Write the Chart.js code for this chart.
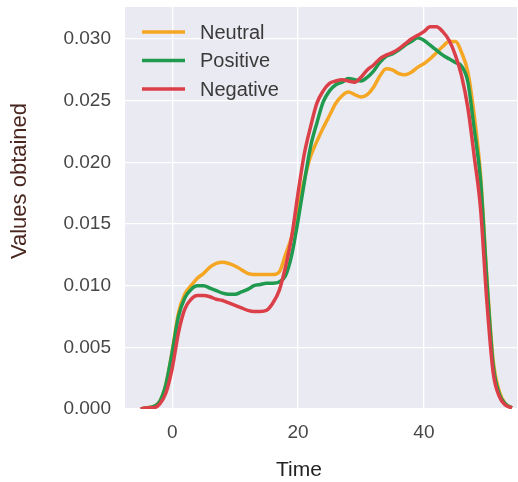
<!DOCTYPE html>
<html>
<head>
<meta charset="utf-8">
<script src="https://cdn.jsdelivr.net/npm/chart.js@4.4.1/dist/chart.umd.min.js"></script>
<style>
    html, body { margin: 0; padding: 0; background: #ffffff; }
    #wrap { width: 518px; height: 482px; position: relative; }
</style>
</head>
<body>
<div id="wrap"><canvas id="kdeChart"></canvas></div>
<script>
// time grid (x) and the three density curves
const timePoints = [-5, -4, -3, -2, -1, 0, 1, 2, 3, 4, 5, 6, 7, 8, 9, 10, 11, 12, 13, 14,
    15, 16, 17, 18, 19, 20, 21, 22, 23, 24, 25, 26, 27, 28, 29, 30, 31, 32, 33, 34,
    35, 36, 37, 38, 39, 40, 41, 42, 43, 44, 45, 46, 47, 48, 49, 50, 51, 52, 53, 54];

const neutralValues = [0.0000, 0.0001, 0.0002, 0.0006, 0.0020, 0.0047, 0.0078, 0.0093, 0.0100, 0.0106,
    0.0110, 0.0115, 0.0118, 0.0119, 0.0118, 0.0116, 0.0113, 0.0110, 0.0109, 0.0109,
    0.0109, 0.0109, 0.0111, 0.0125, 0.0140, 0.0163, 0.0186, 0.0205, 0.0217, 0.0228,
    0.0238, 0.0248, 0.0254, 0.0257, 0.0255, 0.0253, 0.0255, 0.0261, 0.0270, 0.0276,
    0.0275, 0.0272, 0.0271, 0.0273, 0.0277, 0.0280, 0.0284, 0.0289, 0.0294, 0.0298,
    0.0298, 0.0289, 0.0273, 0.0238, 0.0190, 0.0108, 0.0040, 0.0014, 0.0004, 0.0001];

const positiveValues = [0.0000, 0.0001, 0.0002, 0.0006, 0.0020, 0.0046, 0.0075, 0.0090, 0.0097, 0.0100,
    0.0100, 0.0098, 0.0096, 0.0094, 0.0093, 0.0093, 0.0095, 0.0097, 0.0100, 0.0101,
    0.0102, 0.0102, 0.0103, 0.0108, 0.0125, 0.0153, 0.0184, 0.0213, 0.0232, 0.0249,
    0.0258, 0.0263, 0.0265, 0.0268, 0.0267, 0.0266, 0.0269, 0.0274, 0.0281, 0.0286,
    0.0288, 0.0291, 0.0295, 0.0298, 0.0301, 0.0299, 0.0295, 0.0291, 0.0287, 0.0284,
    0.0281, 0.0278, 0.0265, 0.0227, 0.0186, 0.0105, 0.0036, 0.0012, 0.0004, 0.0001];

const negativeValues = [0.0000, 0.0001, 0.0001, 0.0004, 0.0013, 0.0033, 0.0062, 0.0081, 0.0089, 0.0092,
    0.0092, 0.0091, 0.0089, 0.0088, 0.0086, 0.0084, 0.0082, 0.0080, 0.0079, 0.0079,
    0.0080, 0.0086, 0.0096, 0.0115, 0.0140, 0.0175, 0.0207, 0.0229, 0.0248, 0.0258,
    0.0264, 0.0266, 0.0267, 0.0266, 0.0265, 0.0269, 0.0275, 0.0279, 0.0284, 0.0287,
    0.0289, 0.0292, 0.0296, 0.0300, 0.0303, 0.0306, 0.0310, 0.0310, 0.0306, 0.0299,
    0.0287, 0.0270, 0.0244, 0.0205, 0.0163, 0.0088, 0.0030, 0.0010, 0.0003, 0.0001];

const seriesNames = ['Neutral', 'Positive', 'Negative'];
const seriesColors = ['#f5a623', '#1f9a4e', '#db3f48'];

const xTicks = [0, 20, 40];
const yTicks = [0.000, 0.005, 0.010, 0.015, 0.020, 0.025, 0.030];

const FONT = '"Liberation Sans", Arial, sans-serif';

const toPoints = (vals) => timePoints.map((t, i) => ({ x: t, y: vals[i] }));

// seaborn-ish grey panel behind the curves
const plotBackground = {
    id: 'plotBackground',
    beforeDraw(chart) {
        const { ctx, chartArea: a } = chart;
        ctx.save();
        ctx.fillStyle = '#eaeaf2';
        ctx.fillRect(a.left, a.top, a.width, a.height);
        ctx.restore();
    }
};

// legend sits inside the plot, top left, one row per series
const insideLegend = {
    id: 'insideLegend',
    afterDatasetsDraw(chart) {
        const { ctx, chartArea: a } = chart;
        ctx.save();
        ctx.font = '20px ' + FONT;
        ctx.textBaseline = 'middle';
        chart.data.datasets.forEach((ds, i) => {
            const y = a.top + 25 + i * 28.5;
            ctx.strokeStyle = ds.borderColor;
            ctx.lineWidth = 3.5;
            ctx.beginPath();
            ctx.moveTo(a.left + 17, y);
            ctx.lineTo(a.left + 60, y);
            ctx.stroke();
            ctx.fillStyle = '#3a3a3a';
            ctx.fillText(ds.label, a.left + 75, y + 1);
        });
        ctx.restore();
    }
};

// axis titles placed like the original (not centred on the panel)
const axisTitles = {
    id: 'axisTitles',
    afterDraw(chart) {
        const { ctx, chartArea: a } = chart;
        ctx.save();
        ctx.font = '22px ' + FONT;
        ctx.textAlign = 'center';
        ctx.textBaseline = 'middle';
        ctx.fillStyle = '#4a2620';
        ctx.translate(20, a.top + 174);
        ctx.rotate(-Math.PI / 2);
        ctx.fillText('Values obtained', 0, 0);
        ctx.restore();

        ctx.save();
        ctx.font = '21px ' + FONT;
        ctx.textAlign = 'center';
        ctx.textBaseline = 'middle';
        ctx.fillStyle = '#222222';
        ctx.fillText('Time', a.left + 174, a.bottom + 61);
        ctx.restore();
    }
};

const keepTicks = (list) => (scale) => {
    scale.ticks = list.map(v => ({ value: v }));
};

new Chart(document.getElementById('kdeChart'), {
    type: 'line',
    data: {
        datasets: [
            { label: seriesNames[0], data: toPoints(neutralValues), borderColor: seriesColors[0], order: 3 },
            { label: seriesNames[1], data: toPoints(positiveValues), borderColor: seriesColors[1], order: 2 },
            { label: seriesNames[2], data: toPoints(negativeValues), borderColor: seriesColors[2], order: 1 }
        ].map(ds => Object.assign(ds, {
            borderWidth: 3.5,
            pointRadius: 0,
            fill: false,
            cubicInterpolationMode: 'monotone'
        }))
    },
    options: {
        responsive: true,
        maintainAspectRatio: false,
        animation: false,
        layout: { padding: { top: 7, right: 1, left: 0, bottom: 0 } },
        scales: {
            x: {
                type: 'linear',
                min: -7.5,
                max: 54.8,
                afterBuildTicks: keepTicks(xTicks),
                afterFit: (scale) => {
                    scale.height = 73;
                    scale.paddingLeft = 0;
                    scale.paddingRight = 0;
                },
                border: { display: false },
                grid: { color: '#ffffff', lineWidth: 1.3, drawTicks: false },
                ticks: {
                    padding: 12,
                    color: '#474747',
                    font: { family: FONT, size: 19 }
                }
            },
            y: {
                min: 0,
                max: 0.0326,
                afterBuildTicks: keepTicks(yTicks),
                afterFit: (scale) => {
                    scale.width = 125;
                    scale.paddingTop = 0;
                    scale.paddingBottom = 0;
                },
                border: { display: false },
                grid: { color: '#ffffff', lineWidth: 1.3, drawTicks: false },
                ticks: {
                    padding: 14,
                    color: '#474747',
                    font: { family: FONT, size: 19 },
                    callback: v => Number(v).toFixed(3)
                }
            }
        },
        plugins: {
            legend: { display: false },
            tooltip: { enabled: false }
        }
    },
    plugins: [plotBackground, insideLegend, axisTitles]
});
</script>
</body>
</html>
